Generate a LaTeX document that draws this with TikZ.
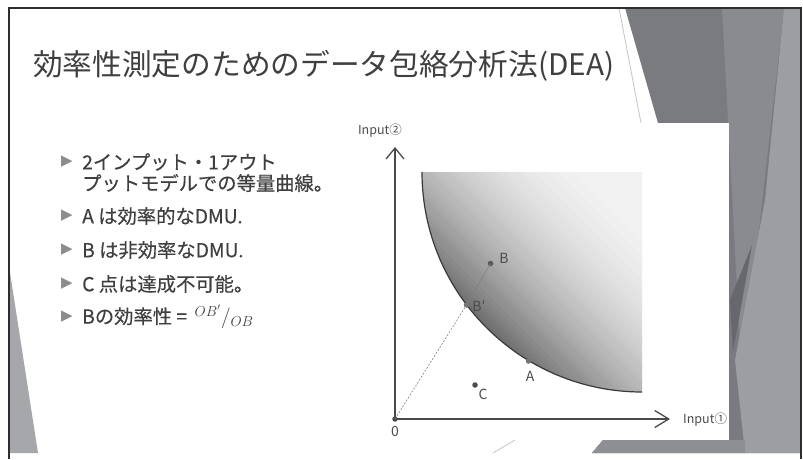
\documentclass[tikz,border=0pt]{standalone}
\usepackage{fontspec}
\setmainfont{Noto Sans CJK JP}
\newfontfamily\symf{DejaVu Sans}
\newfontfamily\medjp{Noto Sans CJK JP}[FakeBold=0.35]
\usetikzlibrary{arrows.meta}
\definecolor{txt}{HTML}{3F3F3F}
\definecolor{bulc}{HTML}{8C8C8C}
\definecolor{axisc}{HTML}{4A4A4A}
\definecolor{lblc}{HTML}{4C4C4C}
\definecolor{bordc}{HTML}{2E2E2E}
\definecolor{facetA}{HTML}{7A7B7F}
\definecolor{facetB}{HTML}{8A8B8F}
\definecolor{facetC}{HTML}{9D9EA2}
\definecolor{facetD}{HTML}{67686C}
\definecolor{facetE}{HTML}{8E8F93}
\definecolor{leftfacet}{HTML}{A6A7AB}
\definecolor{thinl}{HTML}{C4C4C4}
\definecolor{curvec}{HTML}{3A3A3A}
\begin{document}
\begin{tikzpicture}[x=1pt,y=-1pt,
  bulstyle/.style={text=bulc, font=\symf\fontsize{15}{15}\selectfont, inner sep=0},
  btxt/.style={text=txt, font=\medjp\fontsize{19.3}{22}\selectfont, anchor=west, inner sep=0},
  lbl/.style={text=lblc, font=\fontsize{14}{14}\selectfont, inner sep=0},
  axlbl/.style={text=lblc, font=\fontsize{12.5}{13}\selectfont, inner sep=0},
  dotstyle/.style={circle, fill=#1, inner sep=0, minimum size=5.5pt},
  axisline/.style={draw=axisc, line width=1.3pt},
]
\useasboundingbox (0,0) rectangle (803,459);
\fill[white] (0,0) rectangle (803,459);

% right facets
\fill[facetA] (625,8) -- (801,8) -- (801,453) -- (592,453) -- (603,440) -- (658,123) -- cycle;
\fill[facetB] (722,8) -- (784,8) -- (742,380) -- cycle;
\fill[facetC] (784,8) -- (801,8) -- (801,453) -- (745,453) -- (735,360) -- (765,200) -- cycle;
\fill[facetD] (752,245) -- (730,300) -- (733,352) -- cycle;
\fill[facetE] (603,440) -- (745,440) -- (745,453) -- (592,453) -- cycle;
\draw[thinl, line width=0.8pt] (619,8) -- (641,123);
\draw[thinl, line width=0.8pt] (493,453) -- (515,440);
% left facet
\fill[leftfacet] (9,266) -- (9,453) -- (38,453) -- cycle;

% border
\draw[bordc, line width=2pt] (9,459) -- (9,8) -- (801,8) -- (801,459);

% title
\node[anchor=west, text=txt, font=\fontsize{29.7}{34}\selectfont, inner sep=0] (title) at (33,66) {効率性測定のためのデータ包絡分析法(DEA)};

% bullets
\node[bulstyle] (b1) at (67,162) {▶};
\node[btxt] (t1) at (82,162) {2インプット・1アウト};
\node[btxt] (t2) at (82,183) {プットモデルでの等量曲線。};
\node[bulstyle] (b2) at (67,216) {▶};
\node[btxt] (t3) at (82,216) {A は効率的なDMU.};
\node[bulstyle] (b3) at (67,250) {▶};
\node[btxt] (t4) at (82,250) {B は非効率なDMU.};
\node[bulstyle] (b4) at (67,284) {▶};
\node[btxt] (t5) at (82,284) {C 点は達成不可能。};
\node[bulstyle] (b5) at (67,317) {▶};
\node[btxt] (t6) at (82,317) {Bの効率性 = \,${}^{OB'}/_{OB}$};

% chart panel
\fill[white] (345,123) rectangle (729,440);
\begin{scope}
\clip (642,172) -- (422,172) arc[start angle=180, end angle=90, radius=220] -- cycle;
\foreach \d in {0,4,...,224}{
  \pgfmathtruncatemacro\p{5+54*(max(\d-20,0)/200)^2}
  \pgfmathsetmacro\e{\d+5}
  \fill[black!\p!white] ({642+(-\d-300)*0.7071},{172+(\d-300)*0.7071}) -- ({642+(-\d+300)*0.7071},{172+(\d+300)*0.7071}) -- ({642+(-\e+300)*0.7071},{172+(\e+300)*0.7071}) -- ({642+(-\e-300)*0.7071},{172+(\e-300)*0.7071}) -- cycle;
}
\end{scope}
\draw[curvec, line width=1.2pt] (422,172) arc[start angle=180, end angle=90, radius=220];

% axes
\node[dotstyle=axisc] (O) at (395,419) {};
\coordinate (xend) at (670,419);
\coordinate (yend) at (395,147);
\draw[axisline, -{Straight Barb[length=14pt, width=17pt]}] (O.center) -- (xend);
\draw[axisline, -{Straight Barb[length=11pt, width=18pt]}] (O.center) -- (yend);
\node[axlbl, anchor=west] (xl) at (683,420) {Input①};
\node[axlbl] (yl) at (380,131) {Input②};
\node[lbl] (Ol) at (395,431) {0};

% points
\node[dotstyle=gray!90!black] (Bp) at (466.5,305) {};
\node[dotstyle=black!65] (B) at (490.5,263.5) {};
\node[dotstyle=gray!90!black] (A) at (528.5,361) {};
\node[dotstyle=black!70] (C) at (475,385) {};
\draw[gray, line width=0.6pt, dash pattern=on 2pt off 1.5pt] (O.center) -- (Bp.center);
\draw[gray, line width=0.6pt] (Bp.center) -- (B.center);
\node[lbl] (Bl) at (504,258) {B};
\node[lbl] (Bpl) at (479,306) {B′};
\node[lbl] (Al) at (530,376) {A};
\node[lbl] (Cl) at (483,394) {C};
\end{tikzpicture}
\end{document}
